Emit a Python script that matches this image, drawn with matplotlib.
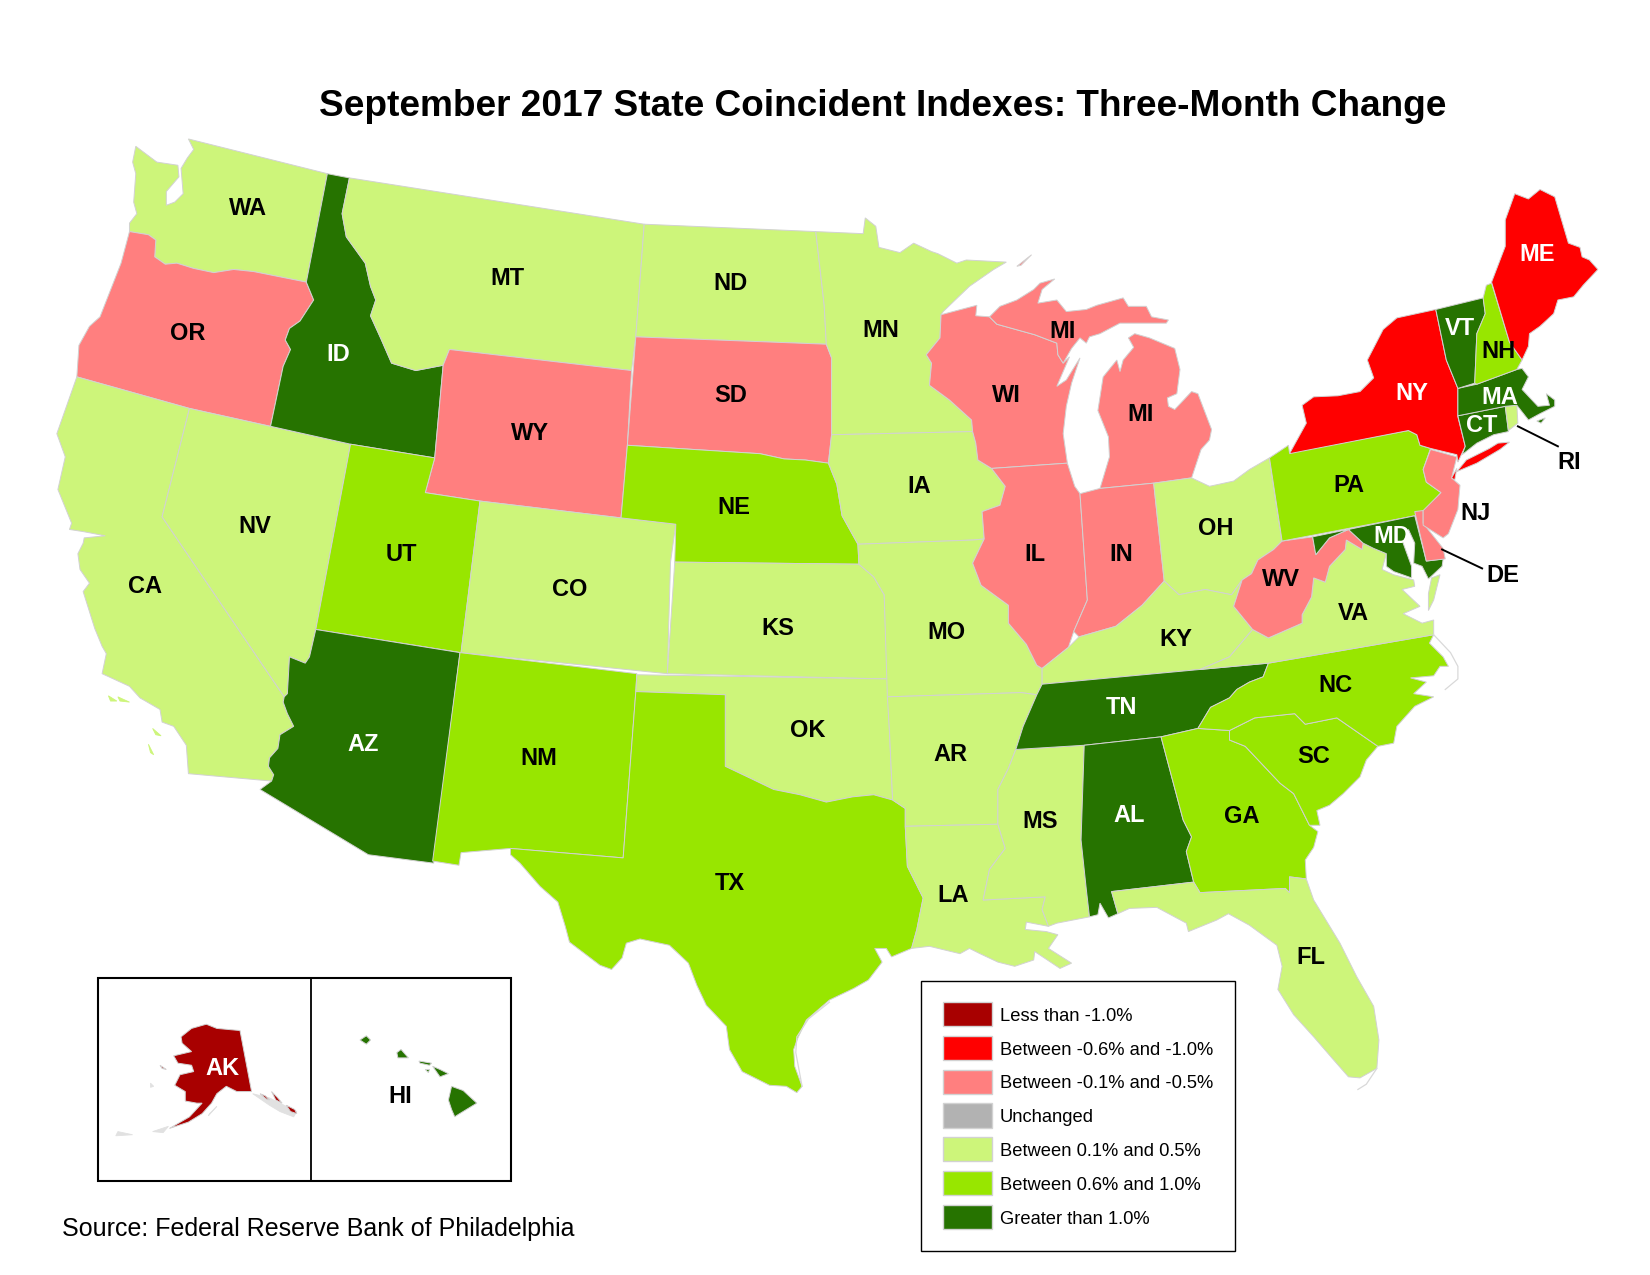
import matplotlib
matplotlib.use('Agg')
import matplotlib.pyplot as plt
import matplotlib.patches as mpatches

plt.rcParams['font.family'] = ['Liberation Sans', 'DejaVu Sans']

TITLE = "September 2017 State Coincident Indexes: Three-Month Change"
SOURCE = "Source: Federal Reserve Bank of Philadelphia"

BIN_LABELS = ["Less than -1.0%", "Between -0.6% and -1.0%", "Between -0.1% and -0.5%", "Unchanged",
              "Between 0.1% and 0.5%", "Between 0.6% and 1.0%", "Greater than 1.0%"]
BIN_COLORS = ['#A80000', '#FF0000', '#FF7F7F', '#B2B2B2', '#CDF57A', '#98E600', '#267300']

# which legend bin each state falls in
BIN_STATES = [
    ['AK'],
    ['ME', 'NY'],
    ['OR', 'WY', 'SD', 'WI', 'MI', 'IL', 'IN', 'WV', 'NJ', 'DE'],
    [],
    ['WA', 'MT', 'ND', 'MN', 'IA', 'NV', 'CA', 'CO', 'KS', 'MO', 'OK', 'AR', 'LA', 'MS', 'FL', 'KY', 'OH', 'VA', 'RI'],
    ['UT', 'NE', 'NM', 'TX', 'PA', 'NH', 'NC', 'SC', 'GA'],
    ['ID', 'AZ', 'TN', 'AL', 'VT', 'MA', 'CT', 'MD', 'HI'],
]
WHITE_LABELS = ['AK', 'ME', 'NY', 'ID', 'AZ', 'TN', 'AL', 'VT', 'MA', 'CT', 'MD']

OUTLINES = {
    'WA': [[(129,139),(149,154),(169,157),(170,168),(158,182),(158,195),(166,192),(174,184),(172,160),(178,150),(184,142),(179,132),(311,165),(291,268),(241,258),(222,256),(203,259),(184,255),(168,250),(157,251),(147,244),(148,228),(141,223),(123,220),(123,212),(130,203),(127,192),(129,165),(126,154)]],
    'OR': [[(123,220),(141,223),(148,228),(147,244),(157,251),(168,250),(184,255),(203,259),(222,256),(241,258),(291,268),(298,285),(285,305),(275,312),(271,323),(276,332),(269,348),(257,405),(180,388),(73,358),(75,328),(85,310),(95,301),(115,250)]],
    'CA': [[(73,358),(180,388),(154,491),(270,662),(269,667),(273,678),(279,690),(266,698),(264,711),(256,720),(255,728),(260,736),(258,742),(179,735),(177,708),(165,690),(154,686),(152,674),(133,663),(123,652),(97,640),(101,621),(97,614),(90,597),(79,562),(85,554),(76,541),(74,526),(79,516),(80,511),(100,509),(79,505),(66,503),(68,497),(55,465),(62,434),(54,412)]],
    'NV': [[(180,388),(333,422),(300,598),(294,624),(290,630),(275,624),(273,659),(270,662),(154,491)]],
    'ID': [[(311,165),(332,169),(325,203),(329,225),(347,250),(352,272),(357,285),(352,300),(362,322),(372,345),(395,352),(421,347),(413,435),(333,422),(257,405),(269,348),(276,332),(271,323),(275,312),(285,305),(298,285),(291,268)]],
    'MT': [[(332,169),(612,213),(604,320),(600,352),(427,332),(421,347),(395,352),(372,345),(362,322),(352,300),(357,285),(352,272),(347,250),(329,225),(325,203)]],
    'WY': [[(427,332),(600,352),(596,423),(590,492),(456,476),(404,468),(413,435),(421,347)]],
    'UT': [[(333,422),(413,435),(404,468),(456,476),(438,620),(300,598)]],
    'AZ': [[(300,598),(437,620),(412,820),(350,812),(247,750),(258,742),(260,736),(255,728),(256,720),(264,711),(266,698),(279,690),(273,678),(269,667),(270,662),(273,659),(275,624),(290,630),(294,624)]],
    'CO': [[(456,476),(590,492),(642,498),(637,534),(634,640),(438,620)]],
    'NM': [[(437,620),(605,640),(604,658),(592,815),(485,806),(438,810),(436,822),(411,818)]],
    'ND': [[(612,213),(775,220),(783,290),(785,327),(604,320)]],
    'SD': [[(604,320),(785,327),(790,340),(790,413),(787,440),(765,437),(745,436),(722,431),(596,423)]],
    'NE': [[(596,423),(722,431),(745,436),(765,437),(787,440),(795,460),(800,490),(815,517),(816,536),(641,534),(642,498),(590,492)]],
    'KS': [[(641,534),(816,536),(830,548),(840,565),(843,645),(634,640)]],
    'OK': [[(605,641),(843,645),(845,695),(848,760),(830,755),(810,757),(785,762),(760,755),(735,750),(710,738),(689,728),(689,660),(604,657)]],
    'TX': [[(604,657),(689,660),(689,728),(710,738),(735,750),(760,755),(785,762),(810,757),(830,755),(848,760),(860,768),(860,785),(862,823),(877,853),(871,883),(866,901),(847,909),(842,901),(831,901),(838,914),(825,931),(811,939),(788,950),(766,969),(758,986),(754,997),(755,1013),(762,1032),(757,1038),(747,1032),(731,1031),(705,1018),(693,997),(690,975),(671,955),(662,936),(654,915),(636,898),(608,892),(595,896),(591,910),(581,921),(570,917),(541,895),(537,880),(530,857),(513,842),(494,820),(485,812),(485,806),(592,815)]],
    'MN': [[(775,220),(820,222),(822,207),(832,215),(835,235),(855,240),(868,231),(885,239),(891,241),(909,250),(918,247),(956,249),(944,256),(921,272),(896,296),(894,299),(893,321),(880,337),(885,345),(883,366),(902,380),(923,399),(924,410),(790,413),(790,340),(785,327),(783,290)]],
    'IA': [[(790,413),(924,410),(927,421),(929,437),(942,445),(955,462),(950,480),(933,486),(935,512),(925,513),(815,517),(800,490),(795,460),(787,440)]],
    'MO': [[(815,517),(925,513),(935,512),(924,535),(932,556),(958,575),(958,592),(975,612),(985,632),(990,635),(990,650),(985,660),(970,658),(843,662),(840,565),(830,548),(816,536)]],
    'AR': [[(843,662),(970,658),(985,660),(972,690),(965,712),(958,730),(948,750),(948,783),(860,785),(860,768),(848,760),(845,695)]],
    'LA': [[(860,785),(948,783),(955,806),(940,826),(934,855),(993,852),(990,864),(996,880),(975,876),(974,883),(994,885),(1005,888),(996,901),(1018,915),(1007,920),(983,904),(982,912),(964,918),(948,914),(931,906),(921,901),(912,906),(883,899),(866,901),(871,883),(877,853),(862,823)]],
    'MS': [[(965,712),(1030,708),(1027,798),(1032,845),(1035,871),(1004,877),(996,880),(990,864),(993,852),(934,855),(940,826),(955,806),(948,783),(948,750),(958,730)]],
    'WI': [[(894,299),(928,290),(927,300),(940,301),(947,308),(983,318),(1004,326),(1005,337),(1010,345),(1016,339),(1004,367),(1013,361),(1026,340),(1018,364),(1013,386),(1010,412),(1014,440),(942,445),(929,437),(927,421),(924,410),(923,399),(902,380),(883,366),(885,345),(880,337),(893,321)]],
    'MI': [[(940,301),(950,291),(966,285),(982,275),(988,269),(1002,265),(990,275),(986,288),(1004,285),(1013,296),(1032,294),(1042,290),(1067,283),(1072,291),(1089,291),(1094,301),(1110,304),(1108,307),(1080,307),(1064,307),(1045,317),(1035,320),(1032,326),(1026,321),(1018,331),(1010,345),(1005,337),(1004,326),(983,318),(947,308)],
           [(1078,317),(1092,321),(1116,331),(1121,351),(1118,374),(1109,378),(1110,386),(1116,389),(1132,372),(1138,374),(1151,408),(1149,418),(1141,427),(1132,454),(1096,459),(1045,464),(1054,434),(1053,415),(1043,390),(1048,358),(1061,342),(1064,353),(1067,342),(1077,330),(1072,321)],
           [(966,253),(980,242),(970,252)]],
    'IL': [[(942,445),(1014,440),(1021,462),(1026,469),(1033,570),(1020,600),(1015,615),(990,635),(985,632),(975,612),(958,592),(958,575),(932,556),(924,535),(935,512),(933,486),(950,480),(955,462)]],
    'IN': [[(1026,469),(1045,464),(1096,459),(1106,552),(1085,575),(1060,595),(1025,605),(1020,600),(1033,570)]],
    'OH': [[(1096,459),(1132,454),(1149,462),(1172,457),(1187,446),(1206,435),(1213,484),(1218,514),(1210,522),(1195,532),(1189,545),(1180,551),(1170,565),(1145,560),(1120,565),(1106,552)]],
    'KY': [[(990,635),(1015,615),(1025,605),(1060,595),(1085,575),(1106,552),(1120,565),(1145,560),(1170,565),(1180,551),(1172,576),(1190,598),(1168,624),(1140,636),(990,650)]],
    'TN': [[(990,650),(1140,636),(1205,630),(1200,643),(1187,648),(1175,655),(1168,663),(1150,672),(1138,692),(1103,700),(1030,708),(965,712),(972,690),(985,660)]],
    'AL': [[(1030,708),(1103,700),(1124,779),(1132,795),(1127,809),(1134,838),(1056,847),(1062,868),(1053,872),(1045,858),(1043,869),(1035,871),(1032,845),(1027,798)]],
    'GA': [[(1103,700),(1138,692),(1168,694),(1168,703),(1183,709),(1216,744),(1229,754),(1244,784),(1252,790),(1248,805),(1240,817),(1241,835),(1225,833),(1225,848),(1221,844),(1140,848),(1134,838),(1127,809),(1132,795),(1124,779)]],
    'FL': [[(1056,847),(1134,838),(1140,848),(1221,844),(1225,848),(1225,833),(1241,835),(1248,855),(1273,896),(1289,928),(1305,956),(1310,988),(1308,1015),(1292,1024),(1281,1023),(1267,1007),(1248,985),(1229,964),(1214,940),(1218,918),(1213,898),(1187,879),(1167,868),(1156,874),(1129,885),(1127,877),(1099,862),(1073,863),(1062,868)]],
    'SC': [[(1168,694),(1192,682),(1230,678),(1240,688),(1270,682),(1309,709),(1298,722),(1292,738),(1276,754),(1263,765),(1251,770),(1254,784),(1244,784),(1229,754),(1216,744),(1183,709),(1168,703)]],
    'NC': [[(1205,630),(1362,603),(1358,611),(1371,624),(1376,633),(1368,633),(1362,642),(1340,644),(1355,648),(1343,659),(1362,662),(1344,671),(1327,690),(1324,706),(1309,709),(1270,682),(1240,688),(1230,678),(1192,682),(1168,694),(1138,692),(1150,672),(1168,663),(1175,655),(1187,648),(1200,643)]],
    'VA': [[(1140,636),(1168,624),(1190,598),(1205,606),(1237,592),(1237,584),(1246,567),(1248,549),(1259,553),(1263,538),(1278,522),(1279,513),(1294,522),(1295,516),(1305,521),(1317,526),(1313,541),(1324,546),(1343,551),(1344,557),(1332,560),(1349,576),(1333,583),(1351,592),(1362,589),(1362,603),(1205,630)],
           [(1368,546),(1362,570),(1357,580),(1357,564),(1360,549)]],
    'WV': [[(1172,576),(1180,551),(1189,545),(1195,532),(1210,522),(1218,514),(1247,510),(1250,527),(1263,511),(1281,503),(1295,516),(1294,522),(1279,513),(1278,522),(1263,538),(1259,553),(1248,549),(1246,567),(1237,584),(1237,592),(1205,606),(1190,598)]],
    'PA': [[(1206,435),(1224,423),(1225,430),(1338,409),(1346,413),(1349,423),(1359,426),(1352,446),(1355,458),(1369,468),(1355,484),(1344,490),(1218,514)]],
    'MD': [[(1247,510),(1344,490),(1355,533),(1371,531),(1370,538),(1357,550),(1351,538),(1343,535),(1344,516),(1338,503),(1333,516),(1341,538),(1341,549),(1324,543),(1317,538),(1317,526),(1305,521),(1295,516),(1281,503),(1263,511),(1250,527)]],
    'DE': [[(1344,486),(1352,485),(1352,497),(1371,521),(1373,531),(1355,533)]],
    'NJ': [[(1359,427),(1384,434),(1379,454),(1387,461),(1385,484),(1376,507),(1371,511),(1352,499),(1352,485),(1369,468),(1355,458),(1352,446)]],
    'NY': [[(1225,431),(1241,402),(1237,385),(1248,377),(1271,376),(1292,372),(1305,359),(1299,342),(1314,313),(1327,302),(1364,294),(1374,342),(1385,369),(1385,396),(1392,424),(1385,439),(1384,432),(1359,426),(1349,423),(1346,413),(1338,409)],
           [(1384,448),(1393,437),(1415,426),(1423,421),(1434,420),(1425,427),(1403,440)],
           [(1379,454),(1384,445),(1382,456)]],
    'CT': [[(1385,395),(1430,386),(1433,410),(1419,413),(1403,421),(1389,432),(1392,424)]],
    'RI': [[(1430,386),(1441,385),(1442,402),(1433,409)]],
    'MA': [[(1385,369),(1403,365),(1441,351),(1446,350),(1452,358),(1446,370),(1461,386),(1472,385),(1469,374),(1477,380),(1477,386),(1463,393),(1452,399),(1441,385),(1430,386),(1385,395)],
           [(1460,400),(1468,397),(1464,402)]],
    'VT': [[(1364,294),(1409,283),(1411,298),(1403,317),(1401,364),(1385,369),(1374,342)]],
    'NH': [[(1412,271),(1417,269),(1434,325),(1446,342),(1441,351),(1403,365),(1401,364),(1403,317),(1411,298),(1409,283)]],
    'ME': [[(1417,268),(1430,234),(1430,209),(1439,184),(1452,189),(1463,180),(1477,187),(1490,231),(1501,235),(1503,244),(1510,247),(1518,256),(1504,271),(1495,282),(1480,285),(1476,298),(1463,310),(1453,317),(1452,329),(1446,342),(1434,325)]],
    'AK': [[(172,985),(182,977),(196,973),(206,977),(228,979),(239,1037),(225,1037),(215,1032),(206,1039),(201,1048),(192,1058),(179,1066),(161,1072),(180,1061),(192,1048),(187,1048),(176,1046),(176,1037),(166,1031),(171,1021),(184,1018),(182,1012),(169,1010),(165,1003),(182,999),(173,991)],
           [(247,1039),(252,1041),(256,1045),(253,1044)],[(258,1037),(263,1042),(268,1048),(262,1045)],[(272,1050),(280,1054),(282,1058),(276,1056)],
           [(152,1012),(158,1016),(154,1015)]],
    'HI': [[(429,1032),(440,1036),(453,1048),(435,1059),(432,1061),(429,1054),(426,1045)],
           [(411,1013),(418,1016),(426,1020),(418,1023)],
           [(398,1008),(410,1010),(408,1012),(399,1010)],
           [(377,1000),(381,997),(388,1005),(378,1005)],
           [(342,988),(348,984),(352,988),(348,992)],
           [(404,1016),(408,1016),(407,1019)]],
}

# channel islands off California, too small to carry an edge
CA_ISLANDS = [[(103,661),(111,666),(105,666)],[(112,662),(123,667),(114,666)],
              [(145,692),(153,699),(148,698)],[(141,707),(146,717),(143,715)]]
# gray fringe of small islands drawn without state fill
AK_ISLANDS = [[(240,1039),(256,1043),(282,1056),(279,1061),(266,1056),(256,1050)],
              [(112,1075),(126,1078),(110,1079)],[(145,1075),(160,1070),(155,1076)],
              [(199,1058),(206,1051),(198,1060)],[(143,1029),(146,1032),(143,1033)]]
# barrier islands along the coast, thin gray lines
BARRIERS = [[(762,1032),(756,1000),(757,985),(768,968),(788,952)],
            [(1362,603),(1378,620),(1385,633),(1385,645),(1373,655)],
            [(1308,1015),(1298,1030),(1290,1035)]]

LABEL_POS = {
    'WA': (236,196), 'MT': (482,263), 'ND': (694,267), 'MN': (837,312), 'OR': (178,315), 'ID': (321,335),
    'WY': (504,410), 'SD': (694,374), 'WI': (956,374), 'NY': (1341,372), 'ME': (1460,240), 'VT': (1387,310),
    'NH': (1424,332), 'MA': (1425,376), 'CT': (1408,402), 'RI': (1491,437), 'PA': (1281,459), 'NJ': (1402,486),
    'MD': (1322,508), 'DE': (1428,545), 'OH': (1155,500), 'IN': (1065,525), 'IL': (983,525), 'IA': (873,460),
    'NE': (697,480), 'NV': (242,498), 'UT': (381,525), 'CO': (541,558), 'CA': (138,555), 'KS': (739,595),
    'MO': (899,599), 'KY': (1117,606), 'WV': (1217,549), 'VA': (1286,581), 'TN': (1065,670), 'NC': (1269,649),
    'SC': (1248,717), 'AR': (903,715), 'OK': (767,692), 'AZ': (345,705), 'NM': (512,719), 'GA': (1180,774),
    'AL': (1073,773), 'MS': (988,778), 'LA': (905,849), 'TX': (693,837), 'FL': (1245,908), 'AK': (211,1013),
    'HI': (380,1040), 'MI': (1084,392),
}
MI_UPPER_LABEL = (1009,313)
LEADERS = [[(1442,405),(1480,424)], [(1370,522),(1408,540)]]

EDGE = '#D2D2D2'
LABEL_DY = 2

fig = plt.figure(figsize=(16.5, 12.75), dpi=100)
ax = fig.add_axes([0, 0, 1, 1])
ax.set_xlim(0, 1567.5)
ax.set_ylim(1211.25, 0)
ax.axis('off')

state_color = {}
for states, color in zip(BIN_STATES, BIN_COLORS):
    for st in states:
        state_color[st] = color

for ring in AK_ISLANDS:
    ax.add_patch(mpatches.Polygon(ring, closed=True, facecolor='#E1E1E1', edgecolor='#E1E1E1', lw=0.6))
for ring in CA_ISLANDS:
    ax.add_patch(mpatches.Polygon(ring, closed=True, facecolor=state_color['CA'], edgecolor=state_color['CA'], lw=0.6))
for line in BARRIERS:
    ax.plot([p[0] for p in line], [p[1] for p in line], color='#D9D9D9', lw=0.9)

for st, rings in OUTLINES.items():
    for ring in rings:
        ax.add_patch(mpatches.Polygon(ring, closed=True, facecolor=state_color[st], edgecolor=EDGE, lw=0.7))

for st, (x, y) in LABEL_POS.items():
    ax.text(x, y + LABEL_DY, st, ha='center', va='center', fontsize=17, fontweight='bold',
            color='white' if st in WHITE_LABELS else 'black')
ax.text(MI_UPPER_LABEL[0], MI_UPPER_LABEL[1] + LABEL_DY, 'MI', ha='center', va='center', fontsize=17, fontweight='bold')

for line in LEADERS:
    ax.plot([p[0] for p in line], [p[1] for p in line], color='black', lw=1.4)

ax.text(839, 101, TITLE, ha='center', va='center', fontsize=26.65, fontweight='bold')
ax.text(59, 1168, SOURCE, ha='left', va='center', fontsize=18)

# inset frames
ax.add_patch(mpatches.Rectangle((93, 929), 392.5, 193, facecolor='none', edgecolor='black', lw=1.5))
ax.plot([295, 295], [929, 1122], color='black', lw=1.3)

# legend
ax.add_patch(mpatches.Rectangle((875, 932), 298, 256, facecolor='white', edgecolor='black', lw=1.0))
for i, (label, color) in enumerate(zip(BIN_LABELS, BIN_COLORS)):
    y = 963.5 + i * 32.1
    ax.add_patch(mpatches.Rectangle((895.5, y - 11.5), 47, 23, facecolor=color, edgecolor=EDGE, lw=1.0))
    ax.text(950, y + 2, label, ha='left', va='center', fontsize=13.2)

plt.savefig('out.png', dpi=100, facecolor='white')
